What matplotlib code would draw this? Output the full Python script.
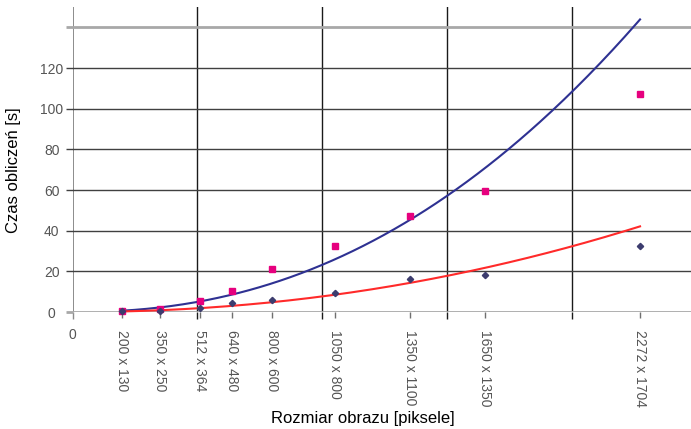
import numpy as np
import matplotlib
matplotlib.use("Agg")
import matplotlib.pyplot as plt

plt.rcParams['font.family'] = ['Liberation Sans', 'DejaVu Sans']

# ---- data ----
widths = [200, 350, 512, 640, 800, 1050, 1350, 1650, 2272]
size_labels = ["200 x 130", "350 x 250", "512 x 364", "640 x 480", "800 x 600",
               "1050 x 800", "1350 x 1100", "1650 x 1350", "2272 x 1704"]
time_a = [0.6, 1.6, 5.3, 10.5, 21.0, 32.5, 47.4, 59.7, 107.4]   # pink squares
time_b = [0.25, 0.6, 2.1, 4.3, 5.9, 9.5, 16.4, 18.2, 32.3]      # dark diamonds
y_ticks = [0, 20, 40, 60, 80, 100, 120, 140]
y_tick_labels = ["0", "20", "40", "60", "80", "100", "120", ""]
x_major = [0, 500, 1000, 1500, 2000]
x_major_labels = ["0", "", "", "", ""]
x_label = "Rozmiar obrazu [piksele]"
y_label = "Czas obliczeń [s]"

W, H = 691, 429
fig = plt.figure(figsize=(W / 100, H / 100), dpi=100)
ax = fig.add_axes([72.5 / W, (H - 312) / H, (W - 72.5) / W, (312 - 7) / H])
ax.set_xlim(0, 2476)
ax.set_ylim(0, 150)

for s in ax.spines.values():
    s.set_visible(False)

ax.set_yticks(y_ticks)
ax.set_yticklabels(y_tick_labels)
ax.set_xticks(x_major)
ax.set_xticklabels(x_major_labels)
ax.set_xticks(widths, minor=True)
ax.set_xticklabels(size_labels, minor=True)

ax.grid(True, axis='y', which='major', color='#404040', linewidth=1.0)
ax.grid(True, axis='x', which='major', color='#1a1a1a', linewidth=1.0)
ygl = ax.yaxis.get_gridlines()
for i, g in enumerate(ygl):
    if y_ticks[i] in (0, 140):
        g.set_color('#a8a8a8')
        g.set_linewidth(2.0)
xgl = ax.xaxis.get_gridlines()
xgl[0].set_color('#8c8c8c')
xgl[0].set_linewidth(1.4)
ax.set_axisbelow(True)

ax.tick_params(axis='y', which='major', length=5.2, width=1.0, color='#404040',
               pad=9.7, labelsize=10, labelcolor='#555555')
for lab in ax.get_yticklabels():
    lab.set_ha('center')
for i, t in enumerate(ax.yaxis.get_major_ticks()):
    if y_ticks[i] in (0, 140):
        t.tick1line.set_markeredgecolor('#a8a8a8')
        t.tick1line.set_markeredgewidth(2.0)

ax.tick_params(axis='x', which='major', length=5.2, width=1.0, color='#1a1a1a',
               pad=6.5, labelsize=10, labelcolor='#555555')
ax.xaxis.get_major_ticks()[0].tick1line.set_markeredgecolor('#8c8c8c')
ax.tick_params(axis='x', which='minor', length=4.5, width=1.0, color='#707070',
               pad=8.5, labelsize=10, labelcolor='#555555', labelrotation=270)
for lab in ax.xaxis.get_minorticklabels():
    lab.set_va('top')
    lab.set_ha('center')

# power trendlines (least squares in log-log space)
xa = np.array(widths, dtype=float)
xs = np.linspace(xa.min(), xa.max(), 300)
pa = np.polyfit(np.log(xa), np.log(np.array(time_a)), 1)
pb = np.polyfit(np.log(xa), np.log(np.array(time_b)), 1)
ax.plot(xs, np.exp(np.polyval(pa, np.log(xs))), color='#2e3192', linewidth=1.5,
        zorder=3, clip_on=False)
ax.plot(xs, np.exp(np.polyval(pb, np.log(xs))), color='#ff2a2a', linewidth=1.5,
        zorder=3, clip_on=False)

ax.plot(widths, time_a, linestyle='none', marker='s', markersize=4.5,
        color='#e6007e', zorder=4, clip_on=False)
ax.plot(widths, time_b, linestyle='none', marker='D', markersize=3.2,
        color='#3c3c6e', zorder=4, clip_on=False)

fig.text(363 / W, 1 - 418 / H, x_label, ha='center', va='center', fontsize=12)
fig.text(13.5 / W, 1 - 170 / H, y_label, ha='center', va='center', fontsize=12,
         rotation=90)

fig.savefig("out.png", dpi=100)
